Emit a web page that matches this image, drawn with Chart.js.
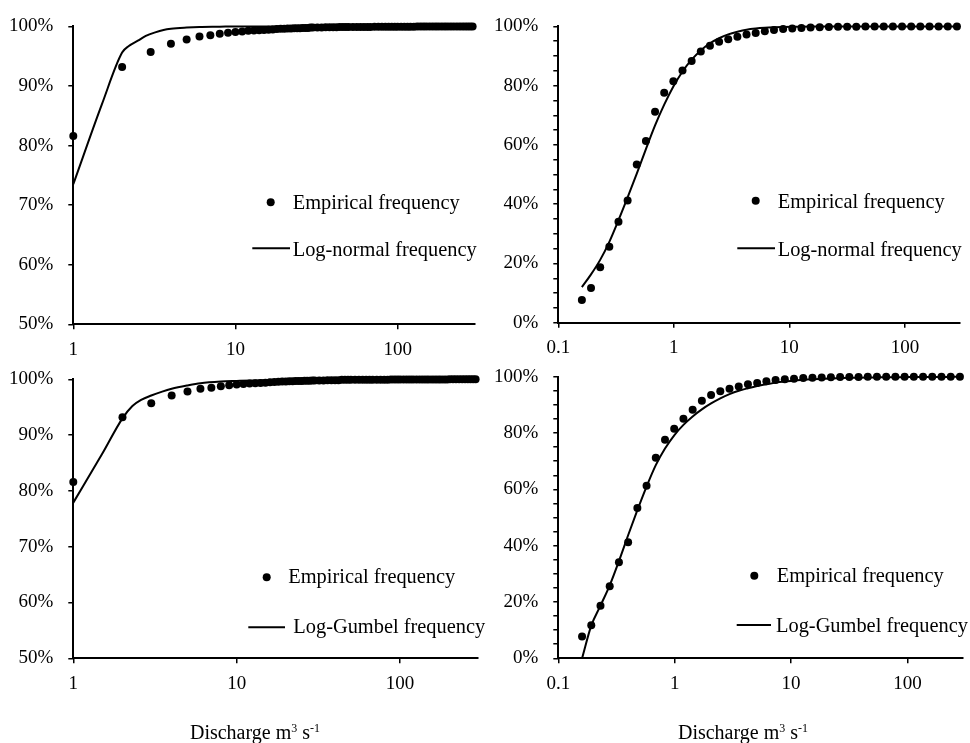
<!DOCTYPE html>
<html>
<head>
<meta charset="utf-8">
<script src="https://cdn.jsdelivr.net/npm/chart.js@4.4.0/dist/chart.umd.min.js"></script>
<style>
    body { margin: 0; background: #fff; }
    #wrap { position: relative; width: 970px; height: 743px; overflow: hidden; }
    #wrap canvas { position: absolute; left: 0; top: 0; }
    .xtitle {
        position: absolute; top: 722px; transform: translateX(-50%);
        font-family: "Liberation Serif", "Times New Roman", serif;
        font-size: 20px; line-height: 20px; color: #000; white-space: nowrap;
    }
    .xtitle sup { font-size: 12px; line-height: 0; vertical-align: 7px; }
</style>
</head>
<body>
<div id="wrap">
    <canvas id="cTL" width="970" height="743"></canvas>
    <canvas id="cTR" width="970" height="743"></canvas>
    <canvas id="cBL" width="970" height="743"></canvas>
    <canvas id="cBR" width="970" height="743"></canvas>
    <div class="xtitle" style="left:255px">Discharge m<sup>3</sup> s<sup>-1</sup></div>
    <div class="xtitle" style="left:743px">Discharge m<sup>3</sup> s<sup>-1</sup></div>
</div>

<script>
// --- data (percent) ---
// left panels: discharge in whole m3/s
const leftEmpX = [1, 2, 3, 4, 5, 6, 7, 8, 9, 10,
    11, 12, 13, 14, 15, 16, 17, 18, 19, 20,
    21, 22, 23, 24, 25, 26, 27, 28, 29, 30,
    32, 34, 36, 38, 40, 42, 44, 46, 48, 50,
    53, 56, 59, 62, 65, 68, 72, 76, 80, 84, 88, 92, 96, 100,
    105, 110, 115, 120, 126, 132, 138, 144, 150, 157, 164, 171, 178, 186, 194,
    202, 211, 220, 230, 240, 250, 260, 270, 280, 290];
const leftEmpY = [81.6, 93.2, 95.7, 97.1, 97.8, 98.3, 98.5, 98.75, 98.95, 99.05,
    99.15, 99.25, 99.3, 99.35, 99.4, 99.45, 99.5, 99.55, 99.6, 99.6,
    99.65, 99.65, 99.7, 99.7, 99.7, 99.75, 99.75, 99.75, 99.8, 99.8,
    99.8, 99.8, 99.85, 99.85, 99.85, 99.85, 99.9, 99.9, 99.9, 99.9,
    99.9, 99.9, 99.9, 99.92, 99.92, 99.92, 99.93, 99.93, 99.94, 99.94, 99.95, 99.95, 99.95, 99.95,
    99.96, 99.96, 99.96, 99.96, 99.96, 99.97, 99.97, 99.97, 99.97, 99.97, 99.98, 99.98, 99.98, 99.98, 99.98,
    99.99, 99.99, 99.99, 99.99, 99.99, 100, 100, 100, 100, 100];

const logNormalLeftX = [1, 1.5, 2, 2.2, 2.5, 2.8, 3.2, 3.6, 4, 5, 6, 8, 10, 20, 50, 100, 290];
const logNormalLeftY = [73.5, 86.9, 95.6, 96.7, 97.6, 98.4, 99.0, 99.4, 99.6, 99.8, 99.9, 99.95, 100, 100, 100, 100, 100];

const gumbelLeftX = [1, 1.5, 2, 2.3, 2.6, 3, 3.5, 4, 5, 6, 8, 10, 15, 20, 30, 50, 100, 290];
const gumbelLeftY = [77.9, 86.6, 93.0, 95.2, 96.3, 97.1, 97.8, 98.3, 98.9, 99.3, 99.6, 99.7, 99.85, 99.9, 99.95, 100, 100, 100];

// right panels: discharge classes
const rightX = [0.16, 0.192, 0.2304, 0.2765, 0.3318, 0.3981, 0.4778, 0.5733, 0.688, 0.8256,
    0.9907, 1.1888, 1.4266, 1.7119, 2.0543, 2.4651, 2.9582, 3.5498, 4.2598, 5.1117,
    6.1341, 7.3609, 8.8331, 10.6, 12.72, 15.264, 18.316, 21.98, 26.376, 31.651,
    37.981, 45.577, 54.693, 65.631, 78.758, 94.509, 113.41, 136.09, 163.31, 195.97,
    235.17, 282.2];
const rightEmpY = [7.7, 11.7, 18.7, 25.6, 34.1, 41.2, 53.4, 61.3, 71.2, 77.6,
    81.5, 85.1, 88.3, 91.5, 93.5, 94.8, 95.7, 96.5, 97.3, 97.8,
    98.4, 98.8, 99.1, 99.3, 99.5, 99.65, 99.75, 99.8, 99.85, 99.9,
    99.9, 99.95, 99.95, 99.95, 100, 100, 100, 100, 100, 100,
    100, 100];
const logNormalRightY = [12.0, 16.3, 21.2, 27.3, 34.6, 42.3, 50.3, 58.6, 66.6, 73.6,
    79.7, 84.8, 88.8, 91.9, 94.3, 96.0, 97.3, 98.2, 98.9, 99.3,
    99.55, 99.7, 99.8, 99.87, 99.92, 99.95, 99.97, 99.98, 99.99, 100,
    100, 100, 100, 100, 100, 100, 100, 100, 100, 100,
    100, 100];
const gumbelRightY = [0, 11.6, 18.7, 25.9, 34.5, 43.7, 52.6, 61.0, 68.6, 74.5,
    79.2, 82.9, 85.9, 88.4, 90.5, 92.3, 93.8, 95.0, 95.9, 96.7,
    97.3, 97.9, 98.3, 98.6, 98.9, 99.1, 99.25, 99.4, 99.5, 99.6,
    99.65, 99.7, 99.75, 99.8, 99.82, 99.85, 99.87, 99.9, 99.92, 99.93,
    99.94, 99.95];

const leftXTicks = [1, 10, 100];
const rightXTicks = [0.1, 1, 10, 100];

const empLabel = 'Empirical frequency';
const logNormalLabel = 'Log-normal frequency';
const gumbelLabel = 'Log-Gumbel frequency';

// --- drawing ---
const FONT = '"Liberation Serif", "Times New Roman", serif';
Chart.defaults.font.family = FONT;
Chart.defaults.color = '#000';

const YW = 73, XH = 40; // fixed axis box sizes (labels are clipped to these)

const panelLegend = {
    id: 'panelLegend',
    afterDraw(chart, args, opts) {
        const ctx = chart.ctx;
        ctx.save();
        ctx.font = '20.4px ' + FONT;
        ctx.fillStyle = '#000';
        ctx.strokeStyle = '#000';
        ctx.textBaseline = 'alphabetic';
        (opts.items || []).forEach(it => {
            if (it.kind === 'dot') {
                ctx.beginPath();
                ctx.arc(it.mx, it.my, 4, 0, Math.PI * 2);
                ctx.fill();
            } else {
                ctx.lineWidth = 2;
                ctx.beginPath();
                ctx.moveTo(it.x1, it.my);
                ctx.lineTo(it.x2, it.my);
                ctx.stroke();
            }
            ctx.fillText(it.text, it.tx, it.ty);
        });
        ctx.restore();
    }
};

function pts(xs, ys) {
    return xs.map((x, i) => ({ x: x, y: ys[i] }));
}

function makePanel(id, area, xMin, xTicks, yMin, yStep, yLabelStep, empX, empY, lineX, lineY, lineLabel, legendItems) {
    new Chart(document.getElementById(id), {
        type: 'scatter',
        data: {
            datasets: [
                {
                    label: lineLabel,
                    data: pts(lineX, lineY),
                    showLine: true,
                    borderColor: '#000',
                    borderWidth: 2,
                    pointRadius: 0,
                    cubicInterpolationMode: 'monotone',
                    clip: false
                },
                {
                    label: empLabel,
                    data: pts(empX, empY),
                    backgroundColor: '#000',
                    borderColor: '#000',
                    borderWidth: 0,
                    pointRadius: 4,
                    clip: false
                }
            ]
        },
        options: {
            responsive: false,
            animation: false,
            events: [],
            layout: {
                padding: {
                    left: area.left - YW,
                    top: area.top,
                    right: 970 - area.right,
                    bottom: 743 - area.bottom - XH
                }
            },
            plugins: {
                legend: { display: false },
                tooltip: { enabled: false },
                panelLegend: { items: legendItems }
            },
            scales: {
                x: {
                    type: 'logarithmic',
                    min: xMin,
                    max: 300,
                    afterBuildTicks: (s) => { s.ticks = xTicks.map(v => ({ value: v })); },
                    afterFit: (s) => { s.height = XH; },
                    ticks: { callback: (v) => String(v), font: { size: 19 }, padding: 9, maxRotation: 0, autoSkip: false },
                    grid: { drawOnChartArea: false, drawTicks: true, tickLength: 5, color: '#000', lineWidth: 1.5 },
                    border: { color: '#000', width: 2 }
                },
                y: {
                    min: yMin,
                    max: 100,
                    afterFit: (s) => { s.width = YW; },
                    ticks: {
                        stepSize: yStep,
                        callback: (v) => (Math.round(v) % yLabelStep === 0 ? Math.round(v) + '%' : ''),
                        font: { size: 19 },
                        padding: 15,
                        autoSkip: false
                    },
                    grid: { drawOnChartArea: false, drawTicks: true, tickLength: 5, color: '#000', lineWidth: 1.5 },
                    border: { color: '#000', width: 2 }
                }
            }
        },
        plugins: [panelLegend]
    });
}

makePanel('cTL', { left: 73.3, top: 17.7, right: 475, bottom: 324.3 }, 1, leftXTicks, 50, 10, 10,
    leftEmpX, leftEmpY, logNormalLeftX, logNormalLeftY, logNormalLabel, [
        { kind: 'dot', mx: 270.7, my: 202.3, text: empLabel, tx: 292.7, ty: 209.3 },
        { kind: 'line', x1: 252.3, x2: 290, my: 248.3, text: logNormalLabel, tx: 292.7, ty: 256 }
    ]);

makePanel('cTR', { left: 558.3, top: 15.7, right: 960, bottom: 322.7 }, 0.1, rightXTicks, 0, 5, 20,
    rightX, rightEmpY, rightX, logNormalRightY, logNormalLabel, [
        { kind: 'dot', mx: 755.7, my: 200.7, text: empLabel, tx: 777.7, ty: 207.7 },
        { kind: 'line', x1: 737.3, x2: 775, my: 248.3, text: logNormalLabel, tx: 777.7, ty: 255.5 }
    ]);

makePanel('cBL', { left: 73.3, top: 379.3, right: 478, bottom: 658.3 }, 1, leftXTicks, 50, 10, 10,
    leftEmpX, leftEmpY, gumbelLeftX, gumbelLeftY, gumbelLabel, [
        { kind: 'dot', mx: 266.7, my: 577.3, text: empLabel, tx: 288.3, ty: 583.3 },
        { kind: 'line', x1: 248.3, x2: 285, my: 627.3, text: gumbelLabel, tx: 293.3, ty: 633.3 }
    ]);

makePanel('cBR', { left: 558.3, top: 376.7, right: 963, bottom: 658.3 }, 0.1, rightXTicks, 0, 5, 20,
    rightX, rightEmpY, rightX, gumbelRightY, gumbelLabel, [
        { kind: 'dot', mx: 754.3, my: 575.7, text: empLabel, tx: 776.7, ty: 582.3 },
        { kind: 'line', x1: 736.7, x2: 771, my: 625, text: gumbelLabel, tx: 776, ty: 631.7 }
    ]);
</script>
</body>
</html>
